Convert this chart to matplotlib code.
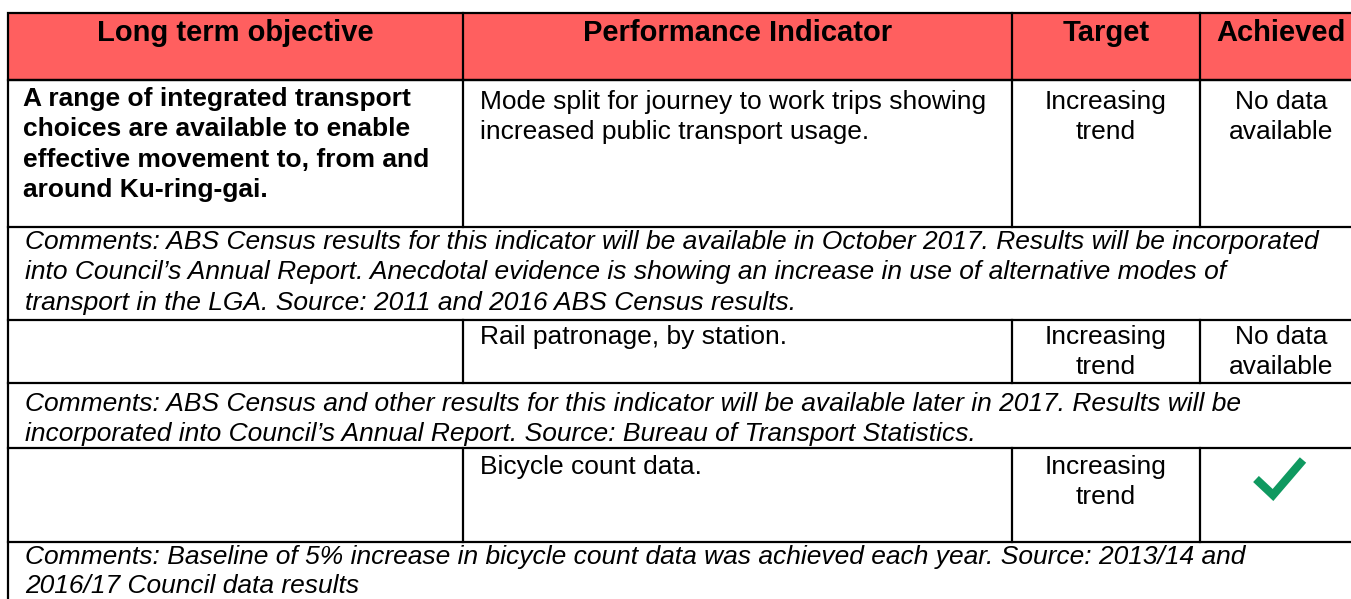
import matplotlib
matplotlib.use("Agg")
import matplotlib.pyplot as plt
from matplotlib.patches import Rectangle

plt.rcParams['font.family'] = ['Liberation Sans', 'DejaVu Sans']

# Table content
headers = ["Long term objective", "Performance Indicator", "Target", "Achieved"]
objective = ["A range of integrated transport", "choices are available to enable",
             "effective movement to, from and", "around Ku-ring-gai."]
indicators = [["Mode split for journey to work trips showing",
               "increased public transport usage."],
              ["Rail patronage, by station."],
              ["Bicycle count data."]]
targets = [["Increasing", "trend"], ["Increasing", "trend"], ["Increasing", "trend"]]
achieved = [["No data", "available"], ["No data", "available"], "tick"]
comments = [["Comments: ABS Census results for this indicator will be available in October 2017. Results will be incorporated",
             "into Council\u2019s Annual Report. Anecdotal evidence is showing an increase in use of alternative modes of",
             "transport in the LGA. Source: 2011 and 2016 ABS Census results."],
            ["Comments: ABS Census and other results for this indicator will be available later in 2017. Results will be",
             "incorporated into Council\u2019s Annual Report. Source: Bureau of Transport Statistics."],
            ["Comments: Baseline of 5% increase in bicycle count data was achieved each year. Source: 2013/14 and",
             "2016/17 Council data results"]]

# Layout (pixels)
W, H = 1351, 599
col_x = [8, 463, 1012, 1200, 1362]
header_y = (13, 80)
row_y = [(80, 227), (320, 383), (448, 542)]
row_first = [22, 17, 19]
comment_y = [(227, 320), (383, 448), (542, 620)]
comment_first = [15, 21, 15]
comment_step = [30.5, 30.5, 29]
fs = 19
fs_head = 21
red = '#FF5F5F'
green = '#0F9960'
lw = 1.6

fig = plt.figure(figsize=(W / 100, H / 100), dpi=100)
ax = fig.add_axes([0, 0, 1, 1])
ax.set_xlim(0, W)
ax.set_ylim(H, 0)
ax.axis('off')

# header
ax.add_patch(Rectangle((col_x[0], header_y[0]), col_x[-1] - col_x[0], header_y[1] - header_y[0],
                       facecolor=red, edgecolor='black', lw=lw))
for i, h in enumerate(headers):
    cx = (col_x[i] + col_x[i + 1]) / 2
    if i == 3:
        cx = 1281
    ax.text(cx, 33, h, ha='center', va='center', fontsize=fs_head, fontweight='bold')
for x in col_x[1:-1]:
    ax.plot([x, x], header_y, color='black', lw=lw)


def hline(y):
    ax.plot([col_x[0], col_x[-1]], [y, y], color='black', lw=lw, solid_capstyle='butt')


for r, (y0, y1) in enumerate(row_y):
    hline(y0)
    hline(y1)
    for x in col_x[:-1]:
        ax.plot([x, x], [y0, y1], color='black', lw=lw)
    first = y0 + row_first[r]
    step = 30
    if r == 0:
        for k, line in enumerate(objective):
            ax.text(23, y0 + 19 + k * 30.5, line, ha='left', va='center', fontsize=fs, fontweight='bold')
    for k, line in enumerate(indicators[r]):
        ax.text(480, first + k * step, line, ha='left', va='center', fontsize=fs)
    for k, line in enumerate(targets[r]):
        ax.text(1106, first + k * step, line, ha='center', va='center', fontsize=fs)
    if achieved[r] == "tick":
        cx, cy = 1281, y0 + 30
        ax.plot([cx - 25, cx - 8, cx + 22], [cy + 1, cy + 17, cy - 18], color=green,
                lw=6, solid_capstyle='butt', solid_joinstyle='miter')
    else:
        for k, line in enumerate(achieved[r]):
            ax.text(1281, first + k * step, line, ha='center', va='center', fontsize=fs)

for r, (y0, y1) in enumerate(comment_y):
    ax.plot([col_x[0], col_x[0]], [y0, y1], color='black', lw=lw)
    for k, line in enumerate(comments[r]):
        ax.text(25, y0 + comment_first[r] + k * comment_step[r], line, ha='left', va='center',
                fontsize=fs, style='italic')

fig.savefig('out.png', dpi=100)
